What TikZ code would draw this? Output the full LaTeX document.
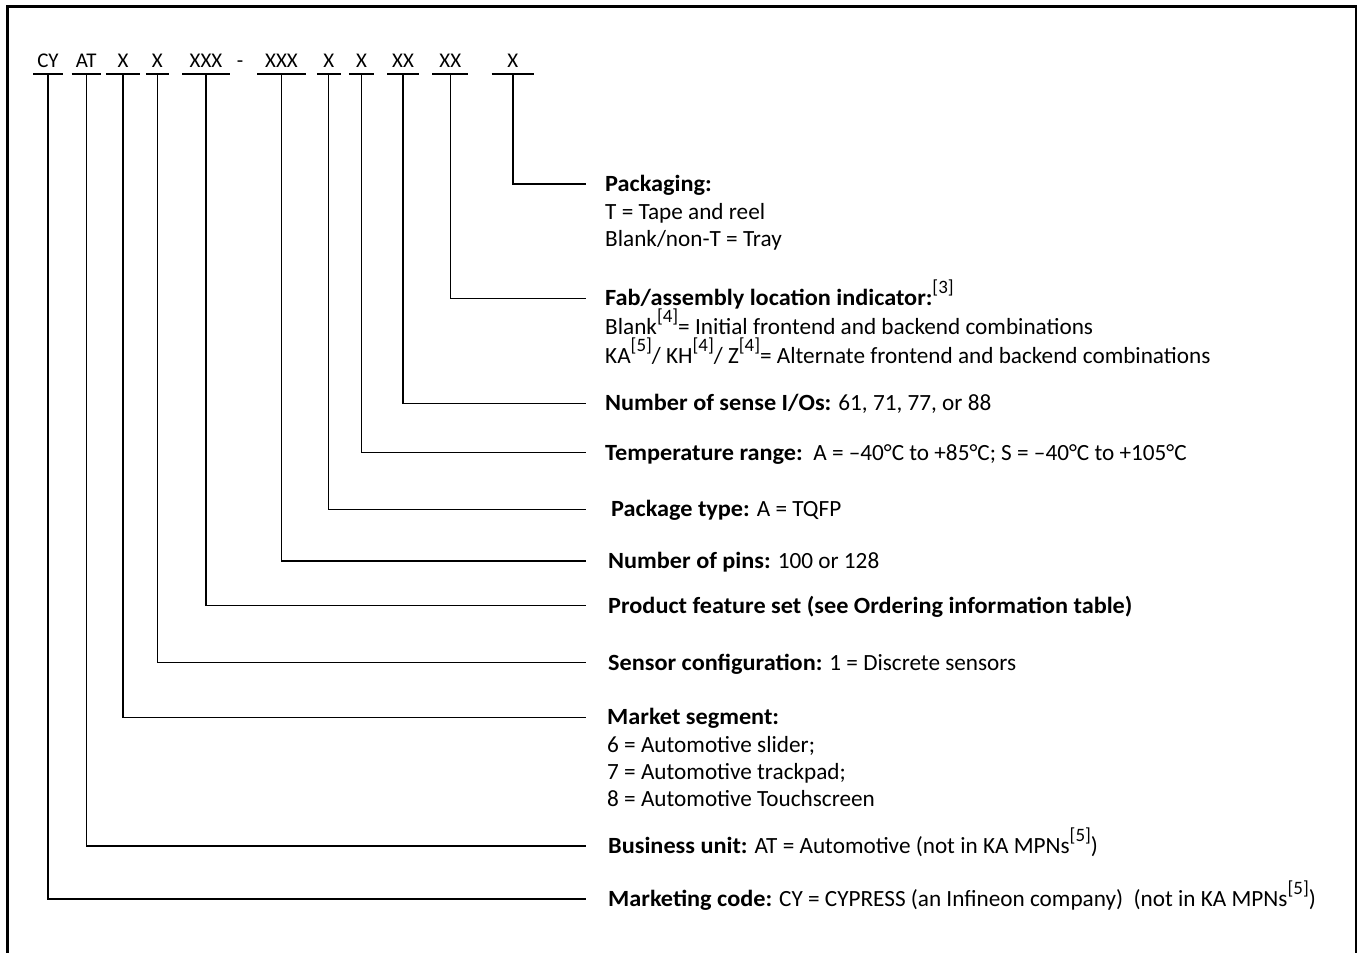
\documentclass[tikz,border=0pt]{standalone}
\usepackage{fontspec}
\setmainfont{Carlito}[BoldFeatures={FakeStretch=1.045}]
\newcommand{\fnref}[1]{\raisebox{0.5em}{\normalfont\fontsize{19}{19}\selectfont[#1]}}
\begin{document}
\begin{tikzpicture}[x=1bp,y=-1bp,
  frame/.style={line width=2.2bp},
  lead/.style={line width=1.2bp},
  code/.style={font=\fontsize{21}{24}\selectfont, anchor=south, inner sep=0pt, text depth=6bp},
  desc/.style={font=\fontsize{23.3}{27}\selectfont, anchor=base west, inner sep=0pt},
]
\useasboundingbox (0,0) rectangle (1362,952);
\draw[frame] (7.5,960) -- (7.5,6.5) -- (1356,6.5) -- (1356,960);

% code labels
\node[code, minimum width=29.4bp] (cy)  at (48,74)    {CY};
\node[code, minimum width=29bp]   (at)  at (86.2,74)  {AT};
\node[code, minimum width=34bp]   (ms)  at (123,74)   {X};
\node[code, minimum width=22.7bp] (sc)  at (157.3,74) {X};
\node[code, minimum width=46.7bp] (pf)  at (206,74)   {XXX};
\node[code] (dash) at (240,74) {-};
\node[code, minimum width=47.7bp] (np)  at (281.5,74) {XXX};
\node[code, minimum width=23.3bp] (pt)  at (328.8,74) {X};
\node[code, minimum width=25bp]   (tr)  at (361.6,74) {X};
\node[code, minimum width=31.6bp] (io)  at (403,74)   {XX};
\node[code, minimum width=35.6bp] (fab) at (450.3,74) {XX};
\node[code, minimum width=42.3bp] (pk)  at (512.9,74) {X};

\foreach \n in {cy,at,ms,sc,pf,np,pt,tr,io,fab,pk}
  \draw[lead] (\n.south west) -- (\n.south east);

% leader end points
\coordinate (epk)  at (586,184);
\coordinate (efab) at (586,298.3);
\coordinate (eio)  at (586,403.3);
\coordinate (etr)  at (586,452.7);
\coordinate (ept)  at (586,509.3);
\coordinate (enp)  at (586,561);
\coordinate (epf)  at (586,605.7);
\coordinate (esc)  at (586,662.7);
\coordinate (ems)  at (586,717.3);
\coordinate (eat)  at (586,846);
\coordinate (ecy)  at (586,899);

\draw[lead] (pk.south)  |- (epk);
\draw[lead] (fab.south) |- (efab);
\draw[lead] (io.south)  |- (eio);
\draw[lead] (tr.south)  |- (etr);
\draw[lead] (pt.south)  |- (ept);
\draw[lead] (np.south)  |- (enp);
\draw[lead] (pf.south)  |- (epf);
\draw[lead] (sc.south)  |- (esc);
\draw[lead] (ms.south)  |- (ems);
\draw[lead] (at.south)  |- (eat);
\draw[lead] (cy.south)  |- (ecy);

% descriptions
\node[desc] (dpk1) at (605,191.5) {\textbf{Packaging:}};
\node[desc] (dpk2) at (605,219) {T = Tape and reel};
\node[desc] (dpk3) at (605,246.5) {Blank/non-T = Tray};

\node[desc] (dfab1) at (605,305.5) {\textbf{Fab/assembly location indicator:}\fnref{3}};
\node[desc] (dfab2) at (605,334.5) {Blank\fnref{4}= Initial frontend and backend combinations};
\node[desc] (dfab3) at (605,363.5) {KA\fnref{5}/ KH\fnref{4}/ Z\fnref{4}= Alternate frontend and backend combinations};

\node[desc] (dio) at (605,410.8) {\textbf{Number of sense I/Os:} 61, 71, 77, or 88};
\node[desc] (dtr) at (605,460.2) {\textbf{Temperature range:}\ \ A = –40°C to +85°C; S = –40°C to +105°C};
\node[desc] (dpt) at (611,516.8) {\textbf{Package type:} A = TQFP};
\node[desc] (dnp) at (608,568.5) {\textbf{Number of pins:} 100 or 128};
\node[desc] (dpf) at (608,613.2) {\textbf{Product feature set (see Ordering information table)}};
\node[desc] (dsc) at (608,670.2) {\textbf{Sensor configuration:} 1 = Discrete sensors};

\node[desc] (dms1) at (607,724.8) {\textbf{Market segment:}};
\node[desc] (dms2) at (607,752) {6 = Automotive slider;};
\node[desc] (dms3) at (607,779) {7 = Automotive trackpad;};
\node[desc] (dms4) at (607,806) {8 = Automotive Touchscreen};

\node[desc] (dat) at (608,853.5) {\textbf{Business unit:} AT = Automotive (not in KA MPNs\fnref{5})};
\node[desc] (dcy) at (608,906.5) {\textbf{Marketing code:} CY = CYPRESS (an Infineon company)\ \ (not in KA MPNs\fnref{5})};
\end{tikzpicture}
\end{document}
